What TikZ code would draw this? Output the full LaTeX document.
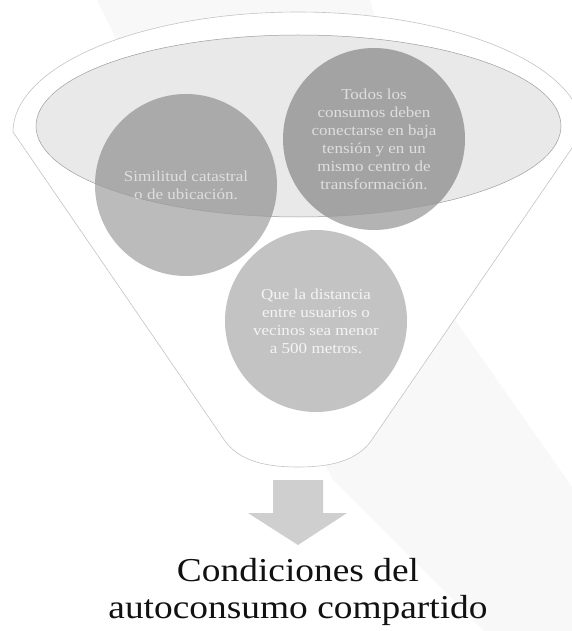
\documentclass[tikz,border=0pt]{standalone}
\usepackage{fontspec}
\setmainfont{Liberation Serif}[FakeStretch=1.12]
\usetikzlibrary{shapes.geometric}
\definecolor{bandgray}{HTML}{F8F8F8}
\definecolor{funnelline}{HTML}{C4C4C4}
\definecolor{ellline}{HTML}{9E9E9E}
\definecolor{leftc}{HTML}{BBBBBB}
\definecolor{rightc}{HTML}{B3B3B3}
\definecolor{bottomc}{HTML}{C3C3C3}
\definecolor{arrowc}{HTML}{CFCFCF}
\definecolor{circtext}{HTML}{F4F4F4}
\definecolor{titletext}{HTML}{111111}
\begin{document}
\begin{tikzpicture}[x=1pt,y=-1pt,
  funnel/.style={draw=funnelline, line width=0.6pt, fill=white},
  bubble/.style={circle, minimum size=182pt, inner sep=0pt, align=center,
    text=circtext, font=\fontsize{15.2}{18}\selectfont},
  topell/.style={ellipse, minimum width=525pt, minimum height=182pt, inner sep=0pt,
    draw=ellline, line width=0.5pt, fill=black, fill opacity=0.085},
  arrowshape/.style={fill=arrowc},
  titlestyle/.style={align=center, text=titletext, font=\fontsize{33.4}{37}\selectfont}]
\useasboundingbox (0,0) rectangle (572,631);
\clip (0,0) rectangle (572,631);
\fill[white] (0,0) rectangle (572,631);
% faint diagonal background band
\fill[bandgray] (97,0) -- (370,0) -- (455,320) -- (572,487) -- (572,631) -- (484,631) -- (333,480) -- cycle;
% funnel outline
\draw[funnel] plot[domain=180:360,samples=120] ({298+285*cos(\x)},{132+120*sin(\x)})
  -- (371.7,440) .. controls (356.6,462) and (328,467) .. (298,467)
  .. controls (268,467) and (239.4,462) .. (224.3,440) -- cycle;
% circles
\node[bubble, fill=leftc] (c1) at (186,185) {Similitud catastral\\o de ubicación.};
\node[bubble, fill=rightc] (c2) at (374,139) {Todos los\\consumos deben\\conectarse en baja\\tensión y en un\\mismo centro de\\transformación.};
\node[bubble, fill=bottomc] (c3) at (316,321) {Que la distancia\\entre usuarios o\\vecinos sea menor\\a 500 metros.};
% top ellipse of the funnel (translucent)
\node[topell] (top) at (298.5,126) {};
% arrow
\fill[arrowshape] (273,480) -- (323,480) -- (323,513) -- (347,513) -- (298,545) -- (248,513) -- (273,513) -- cycle;
% title
\node[titlestyle, anchor=base] (title) at (298,618) {Condiciones del\\autoconsumo compartido};
\end{tikzpicture}
\end{document}
